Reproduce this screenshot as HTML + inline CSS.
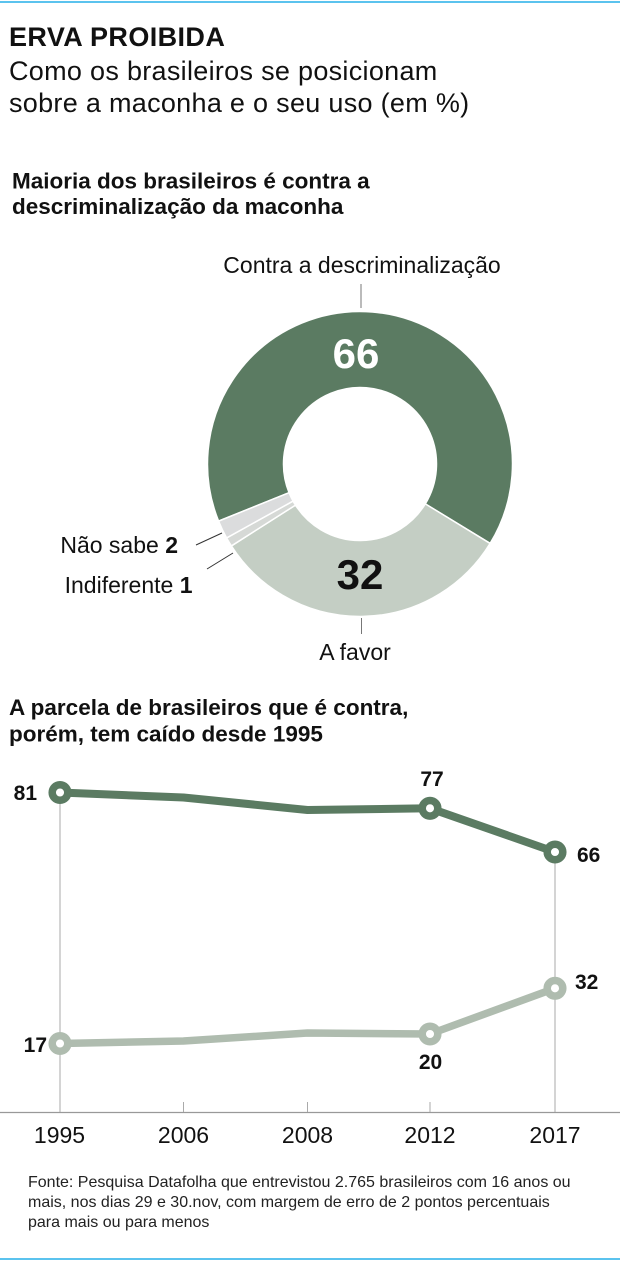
<!DOCTYPE html>
<html>
<head>
<meta charset="utf-8">
<style>
  html, body { margin: 0; padding: 0; background: #fff; }
  body { width: 620px; height: 1264px; overflow: hidden; }
  svg { display: block; }
  text { font-family: "Liberation Sans", "DejaVu Sans", sans-serif; fill: #111; }
  .b { font-weight: bold; }
</style>
</head>
<body>
<svg width="620" height="1264" viewBox="0 0 620 1264" xmlns="http://www.w3.org/2000/svg">
  <!-- top & bottom rules -->
  <rect x="0" y="1" width="620" height="2" fill="#5bc3ee"/>
  <rect x="0" y="1258" width="620" height="2" fill="#5bc3ee"/>

  <!-- header -->
  <text x="9" y="46" class="b" font-size="27" letter-spacing="0.4">ERVA PROIBIDA</text>
  <text x="9" y="80" font-size="27" letter-spacing="0.3">Como os brasileiros se posicionam</text>
  <text x="9" y="112" font-size="27" letter-spacing="0.3">sobre a maconha e o seu uso (em %)</text>

  <text x="12" y="188.5" class="b" font-size="22.5">Maioria dos brasileiros é contra a</text>
  <text x="12" y="214" class="b" font-size="22.5">descriminalização da maconha</text>

  <!-- donut -->
  <g stroke="#fff" stroke-width="1.5" stroke-linejoin="round">
    <path d="M218.60,521.13 A152.5,152.5 0 1 1 490.14,543.45 L425.29,503.86 A76.5,76.5 0 1 0 289.07,492.66 Z" fill="#5b7b62"/>
    <path d="M490.14,543.45 A152.5,152.5 0 0 1 231.38,545.94 L295.48,505.10 A76.5,76.5 0 0 0 425.29,503.86 Z" fill="#c4cec4"/>
    <path d="M231.38,545.94 A152.5,152.5 0 0 1 226.62,537.93 L293.09,501.09 A76.5,76.5 0 0 0 295.48,505.10 Z" fill="#d6d9d6"/>
    <path d="M226.62,537.93 A152.5,152.5 0 0 1 218.60,521.13 L289.07,492.66 A76.5,76.5 0 0 0 293.09,501.09 Z" fill="#dbdcdd"/>
  </g>
  <!-- leader lines -->
  <line x1="361" y1="284" x2="361" y2="308" stroke="#777" stroke-width="1"/>
  <line x1="361.5" y1="618" x2="361.5" y2="634" stroke="#777" stroke-width="1"/>
  <line x1="196" y1="545" x2="222" y2="533" stroke="#333" stroke-width="1"/>
  <line x1="207" y1="569" x2="233" y2="553" stroke="#333" stroke-width="1"/>

  <text x="362" y="273" font-size="23" text-anchor="middle">Contra a descriminalização</text>
  <text x="178" y="553" font-size="23" text-anchor="end">Não sabe <tspan class="b">2</tspan></text>
  <text x="192.5" y="593" font-size="23" text-anchor="end">Indiferente <tspan class="b">1</tspan></text>
  <text x="355" y="660" font-size="23" text-anchor="middle">A favor</text>
  <text x="356" y="368" font-size="42" class="b" text-anchor="middle" style="fill:#fff">66</text>
  <text x="360" y="589" font-size="42" class="b" text-anchor="middle">32</text>

  <!-- line chart title -->
  <text x="9" y="715" class="b" font-size="22.5">A parcela de brasileiros que é contra,</text>
  <text x="9" y="741.5" class="b" font-size="22.5">porém, tem caído desde 1995</text>

  <!-- guides & axis -->
  <line x1="60" y1="792" x2="60" y2="1112" stroke="#aaa" stroke-width="1"/>
  <line x1="555" y1="852" x2="555" y2="1112" stroke="#aaa" stroke-width="1"/>
  <line x1="0" y1="1112.5" x2="620" y2="1112.5" stroke="#999" stroke-width="1.2"/>
  <line x1="183.5" y1="1102" x2="183.5" y2="1112" stroke="#aaa" stroke-width="1"/>
  <line x1="307.5" y1="1102" x2="307.5" y2="1112" stroke="#aaa" stroke-width="1"/>
  <line x1="430" y1="1102" x2="430" y2="1112" stroke="#aaa" stroke-width="1"/>

  <!-- contra series -->
  <polyline points="60,792.5 183.5,797.5 307.5,810 430,808.3 555,852" fill="none" stroke="#5b7b62" stroke-width="8" stroke-linejoin="round"/>
  <g fill="#fff" stroke="#5b7b62" stroke-width="7.5">
    <circle cx="60" cy="792.5" r="7.8"/>
    <circle cx="430" cy="808.3" r="7.8"/>
    <circle cx="555" cy="852" r="7.8"/>
  </g>

  <!-- a favor series -->
  <polyline points="60,1043.5 183.5,1041 307.5,1033 430,1034 555,988.3" fill="none" stroke="#afbcaf" stroke-width="7.5" stroke-linejoin="round"/>
  <g fill="#fff" stroke="#afbcaf" stroke-width="7.5">
    <circle cx="60" cy="1043.5" r="7.8"/>
    <circle cx="430" cy="1034" r="7.8"/>
    <circle cx="555" cy="988.3" r="7.8"/>
  </g>

  <!-- data labels -->
  <text x="37" y="800" class="b" font-size="21" text-anchor="end">81</text>
  <text x="432" y="786" class="b" font-size="21" text-anchor="middle">77</text>
  <text x="577" y="862" class="b" font-size="21">66</text>
  <text x="47" y="1052" class="b" font-size="21" text-anchor="end">17</text>
  <text x="430.5" y="1069" class="b" font-size="21" text-anchor="middle">20</text>
  <text x="575" y="989" class="b" font-size="21">32</text>

  <!-- x labels -->
  <text x="59.5" y="1143" font-size="23" text-anchor="middle">1995</text>
  <text x="183.5" y="1143" font-size="23" text-anchor="middle">2006</text>
  <text x="307.5" y="1143" font-size="23" text-anchor="middle">2008</text>
  <text x="430" y="1143" font-size="23" text-anchor="middle">2012</text>
  <text x="555" y="1143" font-size="23" text-anchor="middle">2017</text>

  <!-- source -->
  <text x="28" y="1187" font-size="16" style="fill:#222">Fonte: Pesquisa Datafolha que entrevistou 2.765 brasileiros com 16 anos ou</text>
  <text x="28" y="1207" font-size="16" style="fill:#222">mais, nos dias 29 e 30.nov, com margem de erro de 2 pontos percentuais</text>
  <text x="28" y="1227" font-size="16" style="fill:#222">para mais ou para menos</text>
</svg>
</body>
</html>
